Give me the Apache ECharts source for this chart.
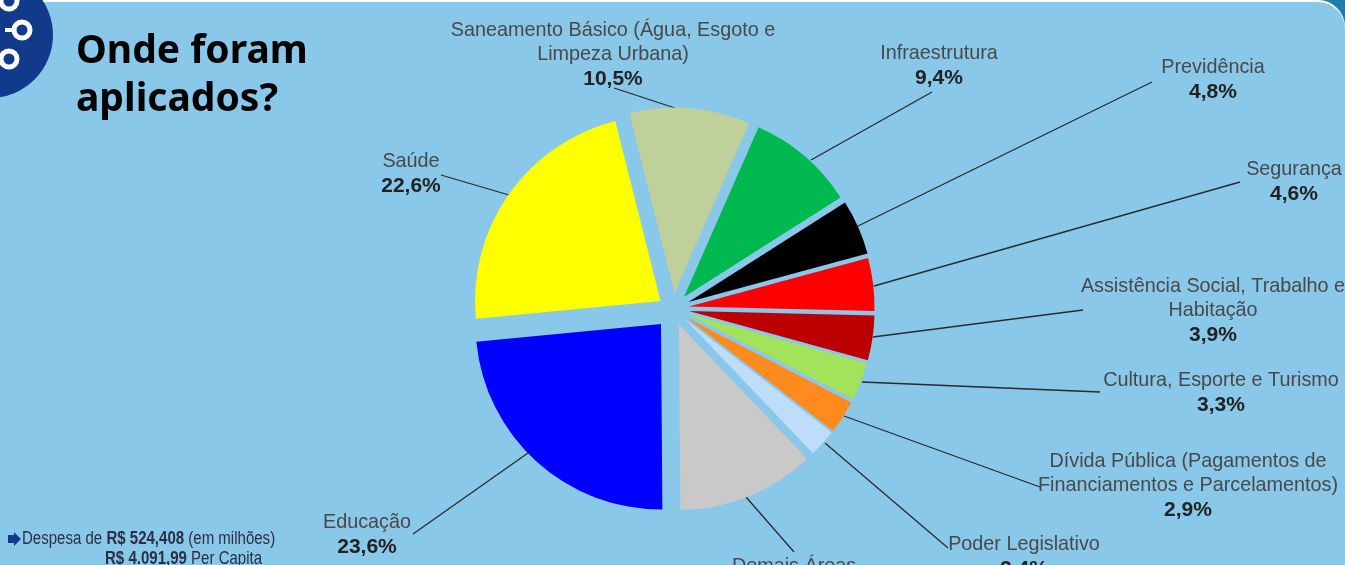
<!DOCTYPE html>
<html>
<head>
<meta charset="utf-8">
<title>Onde foram aplicados?</title>
<script src="https://cdn.jsdelivr.net/npm/echarts@6/dist/echarts.min.js"></script>
<style>
html,body{margin:0;padding:0;background:#fff;overflow:hidden}
#chart{width:1345px;height:565px}
</style>
</head>
<body>
<div id="chart"></div>
<script>
// dados
var names = ['Saneamento Básico (Água, Esgoto e\nLimpeza Urbana)', 'Infraestrutura', 'Previdência', 'Segurança',
  'Assistência Social, Trabalho e\nHabitação', 'Cultura, Esporte e Turismo',
  'Dívida Pública (Pagamentos de\nFinanciamentos e Parcelamentos)', 'Poder Legislativo', 'Demais Áreas', 'Educação', 'Saúde'];
var values = [10.5, 9.4, 4.8, 4.6, 3.9, 3.3, 2.9, 2.4, 12.0, 23.6, 22.6];
var colors = ['#BFD09B', '#00B850', '#000000', '#FF0000', '#BC0000', '#A3E35A', '#FF8A1E', '#BDDDFB', '#C9C9C9', '#0000FF', '#FFFF00'];

// centro de cada fatia (pizza explodida)
var centers = [[674.5, 293], [684, 297], [688.5, 302], [689, 306.5], [689, 311], [688, 314], [686.5, 317.5], [685, 319], [679, 324.5], [661, 324], [660.5, 301]];
// posição dos rótulos: [centro x, topo y]
var labelPos = [[613, 18], [939, 41], [1213, 55], [1294, 157], [1213, 274], [1221, 368], [1188, 449], [1024, 532], [794, 554], [367, 510], [411, 149]];
// linhas de chamada
var leaders = [
  [[614, 88], [675, 108]], [[932, 92], [811, 160]], [[1152, 82], [858, 226]], [[1240, 182], [874, 286]],
  [[1083, 310], [873, 337]], [[1100, 392], [862, 382]], [[1040, 487], [844, 416]], [[948, 548], [825, 443]],
  [[794, 552], [746, 497]], [[413, 534], [528, 453]], [[441, 175], [509, 195]]
];

var bg = '#8AC8EA';
var radius = 185.5;
var firstAngle = -14.1; // graus, sentido horário a partir do topo
var total = 0;
for (var i = 0; i < values.length; i++) total += values[i];

function pct(v) {
  return v.toFixed(1).replace('.', ',') + '%';
}

var series = [];
var acc = 0;
values.forEach(function (v, i) {
  series.push({
    type: 'pie',
    clockwise: true,
    startAngle: 90 - (firstAngle + acc / total * 360),
    center: centers[i],
    radius: [0, radius],
    silent: true,
    animation: false,
    avoidLabelOverlap: false,
    itemStyle: { borderWidth: 0 },
    emphasis: { disabled: true },
    labelLine: { show: true, lineStyle: { color: '#2a2a2a', width: 1.3 } },
    labelLayout: function (params) {
      if (params.dataIndex !== 0) return {};
      var l = leaders[i];
      return {
        x: labelPos[i][0], y: labelPos[i][1], align: 'center', verticalAlign: 'top',
        labelLinePoints: [l[0], [(l[0][0] + l[1][0]) / 2, (l[0][1] + l[1][1]) / 2], l[1]]
      };
    },
    data: [
      {
        value: v, name: names[i],
        itemStyle: { color: colors[i] },
        label: {
          show: true, position: 'outside',
          formatter: '{n|' + names[i].replace('\n', '}\n{n|') + '}\n{v|' + pct(v) + '}',
          rich: {
            n: { fontFamily: 'Liberation Sans', fontSize: 19.8, lineHeight: 24.5, color: '#484848', align: 'center' },
            v: { fontFamily: 'Liberation Sans', fontSize: 21, fontWeight: 'bold', lineHeight: 24.5, color: '#222', align: 'center' }
          }
        }
      },
      {
        value: total - v,
        itemStyle: { color: 'transparent', borderWidth: 0 },
        label: { show: false }, labelLine: { show: false }
      }
    ]
  });
  acc += v;
});

var footFont = '18px "Liberation Sans"';
var footBold = 'bold 18px "Liberation Sans"';

var chart = echarts.init(document.getElementById('chart'));
chart.setOption({
  animation: false,
  tooltip: { show: false },
  graphic: [
    { type: 'rect', z: -10, shape: { x: 1300, y: -5, width: 60, height: 40 }, style: { fill: '#1F7FA8' } },
    { type: 'rect', z: -9, shape: { x: -40, y: 0, width: 1385, height: 640, r: [0, 27, 0, 0] }, style: { fill: '#fff' } },
    { type: 'rect', z: -8, shape: { x: -40, y: 2, width: 1385, height: 640, r: [0, 27, 0, 0] }, style: { fill: bg } },
    { type: 'circle', z: 1, shape: { cx: -10, cy: 35, r: 63 }, style: { fill: '#123A8A' } },
    { type: 'circle', z: 2, shape: { cx: 22, cy: 30, r: 8 }, style: { fill: 'transparent', stroke: '#fff', lineWidth: 5 } },
    { type: 'line', z: 2, shape: { x1: 5, y1: 30, x2: 14, y2: 30 }, style: { stroke: '#fff', lineWidth: 4 } },
    { type: 'circle', z: 2, shape: { cx: 9, cy: 59, r: 8 }, style: { fill: 'transparent', stroke: '#fff', lineWidth: 5 } },
    { type: 'circle', z: 2, shape: { cx: 9, cy: 1, r: 8 }, style: { fill: 'transparent', stroke: '#fff', lineWidth: 5 } },
    { type: 'text', z: 5, style: { x: 76, y: 28, text: 'Onde foram\naplicados?', fill: '#000', font: 'bold 39px "Noto Sans"', lineHeight: 48 } },
    { type: 'polygon', z: 5, shape: { points: [[8, 535], [14, 535], [14, 532], [21, 539], [14, 546], [14, 543], [8, 543]] }, style: { fill: '#123A8A' } },
    { type: 'text', z: 5, x: 22, y: 530, scaleX: 0.835, style: {
      text: 'Despesa de {b|R$ 524,408} (em milhões)', fill: '#2a2f45', font: footFont,
      rich: { b: { font: footBold, fill: '#2a2f45' } }
    } },
    { type: 'text', z: 5, x: 105, y: 550, scaleX: 0.835, style: {
      text: '{b|R$ 4.091,99} Per Capita', fill: '#2a2f45', font: footFont,
      rich: { b: { font: footBold, fill: '#2a2f45' } }
    } }
  ],
  series: series
});
window.addEventListener('resize', function () { chart.resize(); });
</script>
</body>
</html>
